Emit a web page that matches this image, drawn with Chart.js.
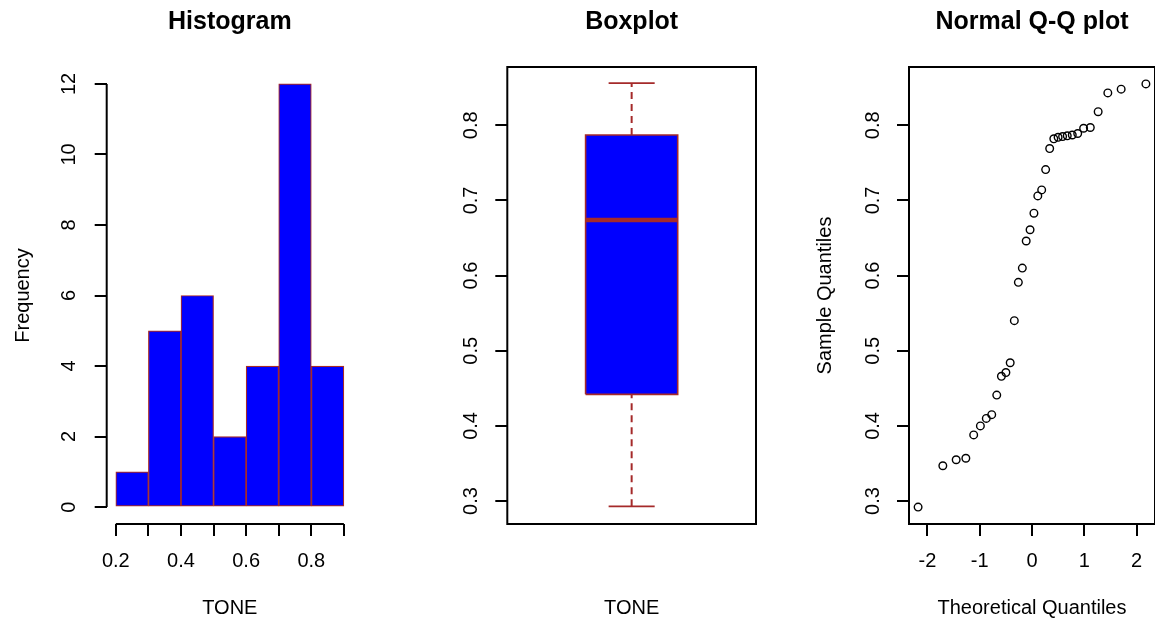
<!DOCTYPE html>
<html>
<head>
<meta charset="utf-8">
<script src="https://cdn.jsdelivr.net/npm/chart.js@4.4.0/dist/chart.umd.min.js"></script>
<style>
  html, body { margin: 0; padding: 0; background: #fff; }
  #wrap { position: relative; width: 1155px; height: 625px; }
  canvas { position: absolute; left: 0; top: 0; }
</style>
</head>
<body>
<div id="wrap">
  <canvas id="hist" width="1155" height="625"></canvas>
  <canvas id="box" width="1155" height="625"></canvas>
  <canvas id="qq" width="1155" height="625"></canvas>
</div>
<script>
// histogram of TONE
const histBreaks = [0.2, 0.3, 0.4, 0.5, 0.6, 0.7, 0.8, 0.9];
const histCounts = [1, 5, 6, 2, 4, 12, 4];
const histTicksX = [0.2, 0.3, 0.4, 0.5, 0.6, 0.7, 0.8, 0.9];
const histLabelsX = ['0.2', '', '0.4', '', '0.6', '', '0.8', ''];
const histTicksY = [0, 2, 4, 6, 8, 10, 12];

// boxplot: min, lower hinge, median, upper hinge, max
const boxStats = [0.293, 0.442, 0.674, 0.787, 0.856];
const quantTicksY = [0.3, 0.4, 0.5, 0.6, 0.7, 0.8];

// normal Q-Q plot
const qqTheoretical = [-2.178, -1.705, -1.450, -1.265, -1.115, -0.987, -0.874, -0.770, -0.674,
  -0.585, -0.499, -0.417, -0.338, -0.261, -0.185, -0.111, -0.037, 0.037, 0.111, 0.185, 0.261,
  0.338, 0.417, 0.499, 0.585, 0.674, 0.770, 0.874, 0.987, 1.115, 1.265, 1.450, 1.705, 2.178];
const qqSample = [0.292, 0.347, 0.355, 0.357, 0.388, 0.400, 0.410, 0.415, 0.441,
  0.466, 0.471, 0.484, 0.540, 0.591, 0.610, 0.646, 0.661, 0.683, 0.706, 0.714, 0.741,
  0.769, 0.782, 0.784, 0.785, 0.786, 0.787, 0.789, 0.796, 0.797, 0.818, 0.843, 0.848, 0.855];
const qqTicksX = [-2, -1, 0, 1, 2];

Chart.defaults.font.family = "'Liberation Sans', Arial, sans-serif";
Chart.defaults.font.size = 20;
Chart.defaults.color = '#000';

const BLUE = '#0000ff';
const BROWN = '#a52a2a';

const tickGrid = { display: true, drawOnChartArea: false, drawTicks: true, tickLength: 12, color: '#000', lineWidth: 2, offset: false };

function setTicks(list) {
  return function (scale) { scale.ticks = list.map(v => ({ value: v })); };
}

// fixed axis height, no extra room for edge labels
function bottomFit(scale) {
  scale.height = 101;
  scale.paddingLeft = 0;
  scale.paddingRight = 0;
}

function titleOpts(text) {
  return { display: true, text: text, fullSize: false, font: { size: 25, weight: 'bold' }, padding: { top: 7, bottom: 30 } };
}

const basePlugins = { legend: { display: false }, tooltip: { enabled: false } };

// R style axis lines only from first to last tick
const histAxes = {
  id: 'histAxes',
  afterDraw(chart) {
    const { ctx, chartArea: a, scales: { x, y } } = chart;
    ctx.save();
    ctx.strokeStyle = '#000';
    ctx.lineWidth = 2;
    ctx.beginPath();
    ctx.moveTo(x.getPixelForValue(histTicksX[0]), a.bottom);
    ctx.lineTo(x.getPixelForValue(histTicksX[histTicksX.length - 1]), a.bottom);
    ctx.moveTo(a.left, y.getPixelForValue(histTicksY[0]));
    ctx.lineTo(a.left, y.getPixelForValue(histTicksY[histTicksY.length - 1]));
    ctx.stroke();
    ctx.restore();
  }
};

const boxFrame = {
  id: 'boxFrame',
  afterDraw(chart) {
    const { ctx, chartArea: a } = chart;
    ctx.save();
    ctx.strokeStyle = '#000';
    ctx.lineWidth = 2;
    ctx.strokeRect(a.left, a.top, a.right - a.left, a.bottom - a.top);
    ctx.restore();
  }
};

// ---- Histogram
new Chart(document.getElementById('hist'), {
  type: 'bar',
  data: {
    datasets: [{
      data: histCounts.map((c, i) => ({ x: (histBreaks[i] + histBreaks[i + 1]) / 2, y: c })),
      backgroundColor: BLUE,
      borderColor: BROWN,
      borderWidth: 1.2,
      borderSkipped: false,
      barPercentage: 1,
      categoryPercentage: 1
    }]
  },
  options: {
    responsive: false,
    animation: false,
    events: [],
    layout: { autoPadding: false, padding: { left: 0, right: 802, top: 0, bottom: 0 } },
    plugins: Object.assign({ title: titleOpts('Histogram') }, basePlugins),
    scales: {
      x: {
        type: 'linear', min: 0.172, max: 0.928, offset: false,
        grid: tickGrid, border: { display: false },
        afterBuildTicks: setTicks(histTicksX),
        afterFit: bottomFit,
        ticks: { autoSkip: false, maxRotation: 0, padding: 13.7, callback: (v, i) => histLabelsX[i] },
        title: { display: true, text: 'TONE', padding: { top: 0, bottom: 5 } }
      },
      y: {
        min: -0.48, max: 12.48,
        grid: tickGrid, border: { display: false },
        afterBuildTicks: setTicks(histTicksY),
        afterFit: s => { s.width = 106.7; },
        ticks: { autoSkip: false, minRotation: 90, maxRotation: 90, crossAlign: 'center', padding: 13.6, callback: v => String(v) },
        title: { display: true, text: 'Frequency', padding: { top: 11, bottom: 0 } }
      }
    }
  },
  plugins: [histAxes]
});

// ---- Boxplot
const [bMin, bLo, bMed, bHi, bMax] = boxStats;
const boxAt = 1, boxHalf = 0.2, capHalf = 0.1;
function seg(points, extra) {
  return Object.assign({ data: points, showLine: true, pointRadius: 0, borderColor: BROWN, borderWidth: 1.6, fill: false }, extra);
}
new Chart(document.getElementById('box'), {
  type: 'scatter',
  data: {
    datasets: [
      seg([{ x: boxAt - boxHalf, y: bMed }, { x: boxAt + boxHalf, y: bMed }], { borderWidth: 4.5, order: 0 }),
      seg([{ x: boxAt - capHalf, y: bMax }, { x: boxAt + capHalf, y: bMax }], { order: 1 }),
      seg([{ x: boxAt - capHalf, y: bMin }, { x: boxAt + capHalf, y: bMin }], { order: 1 }),
      seg([{ x: boxAt, y: bHi }, { x: boxAt, y: bMax }], { borderDash: [7, 5], borderWidth: 2, order: 1 }),
      seg([{ x: boxAt, y: bMin }, { x: boxAt, y: bLo }], { borderDash: [7, 5], borderWidth: 2, order: 1 }),
      seg([
        { x: boxAt - boxHalf, y: bLo }, { x: boxAt + boxHalf, y: bLo },
        { x: boxAt + boxHalf, y: bHi }, { x: boxAt - boxHalf, y: bHi },
        { x: boxAt - boxHalf, y: bLo }
      ], { fill: 'shape', backgroundColor: BLUE, order: 5 })
    ]
  },
  options: {
    responsive: false,
    animation: false,
    events: [],
    layout: { autoPadding: false, padding: { left: 427.3, right: 399, top: 0, bottom: 0 } },
    plugins: Object.assign({ title: titleOpts('Boxplot') }, basePlugins),
    scales: {
      x: {
        type: 'linear', min: 0.46, max: 1.54,
        grid: { display: false }, border: { display: false },
        ticks: { display: false },
        afterFit: bottomFit,
        title: { display: true, text: 'TONE', padding: { top: 0, bottom: 5 } }
      },
      y: {
        min: 0.2695, max: 0.8775,
        grid: tickGrid, border: { display: false },
        afterBuildTicks: setTicks(quantTicksY),
        afterFit: s => { s.width = 80; },
        ticks: { autoSkip: false, minRotation: 90, maxRotation: 90, crossAlign: 'center', padding: 10.4, callback: v => v.toFixed(1) }
      }
    }
  },
  plugins: [boxFrame]
});

// ---- Normal Q-Q plot (right edge of the frame falls just outside the page)
new Chart(document.getElementById('qq'), {
  type: 'scatter',
  data: {
    datasets: [{
      data: qqTheoretical.map((t, i) => ({ x: t, y: qqSample[i] })),
      pointStyle: 'circle',
      pointRadius: 3.8,
      pointBorderWidth: 1.4,
      borderColor: '#000',
      backgroundColor: 'rgba(0,0,0,0)'
    }]
  },
  options: {
    responsive: false,
    animation: false,
    events: [],
    layout: { autoPadding: false, padding: { left: 800, right: -2.5, top: 0, bottom: 0 } },
    plugins: Object.assign({ title: titleOpts('Normal Q-Q plot') }, basePlugins),
    scales: {
      x: {
        type: 'linear', min: -2.352, max: 2.352,
        grid: tickGrid, border: { display: false },
        afterBuildTicks: setTicks(qqTicksX),
        afterFit: bottomFit,
        ticks: { autoSkip: false, maxRotation: 0, padding: 13.7, callback: v => String(v) },
        title: { display: true, text: 'Theoretical Quantiles', padding: { top: 0, bottom: 5 } }
      },
      y: {
        min: 0.2695, max: 0.8775,
        grid: tickGrid, border: { display: false },
        afterBuildTicks: setTicks(quantTicksY),
        afterFit: s => { s.width = 109; },
        ticks: { autoSkip: false, minRotation: 90, maxRotation: 90, crossAlign: 'center', padding: 10.1, callback: v => v.toFixed(1) },
        title: { display: true, text: 'Sample Quantiles', padding: { top: 13, bottom: 0 } }
      }
    }
  },
  plugins: [boxFrame]
});
</script>
</body>
</html>
